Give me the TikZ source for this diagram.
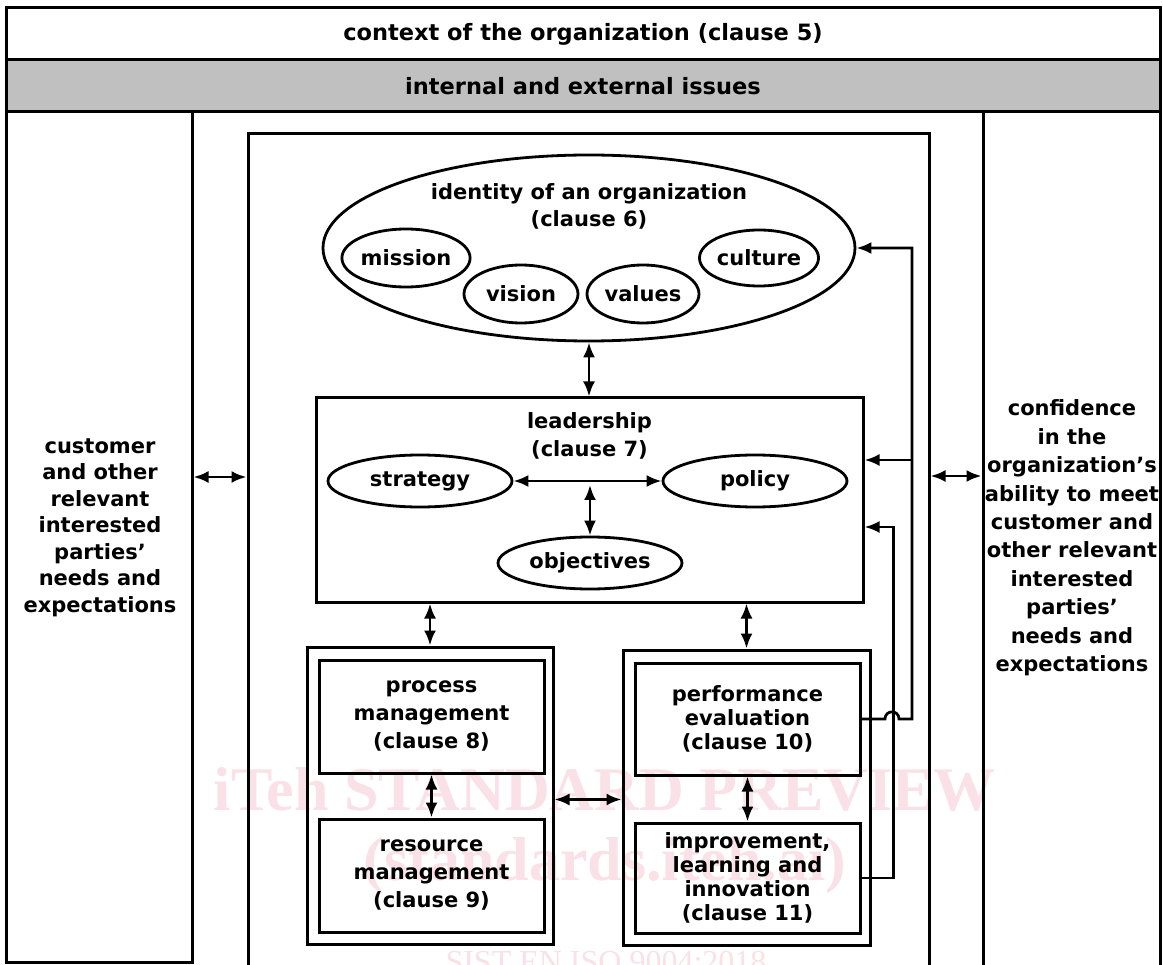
\documentclass[tikz,border=0pt]{standalone}
\usepackage{fontspec}
\setmainfont{DejaVu Sans}
\newfontfamily\wmfont{Liberation Serif}
\usetikzlibrary{arrows.meta,calc,shapes.geometric}
\definecolor{band}{RGB}{192,192,192}
\definecolor{wm}{RGB}{250,224,231}
\newcommand\mytxt{\fontsize{21}{27}\selectfont\bfseries}
\tikzset{
  frame/.style={draw, line width=3pt, rectangle, inner sep=0pt, align=center},
  oval/.style={draw, line width=2.8pt, ellipse, inner sep=0pt, font=\mytxt},
  lab/.style={align=center, inner sep=0pt},
  dbl/.style={line width=2.7pt, {Latex[length=15pt,width=12pt]}-{Latex[length=15pt,width=12pt]}},
  arr/.style={line width=2.7pt, -{Latex[length=15pt,width=12pt]}},
  wmtext/.style={anchor=base, inner sep=0pt, text=wm},
}
\begin{document}
\begin{tikzpicture}[x=1pt,y=-1pt]
\clip (0,0) rectangle (1163,965);
% watermark
\node[wmtext, font={\wmfont\bfseries\fontsize{62}{62}\selectfont}] (wm1) at (605,810) {iTeh STANDARD PREVIEW};
\node[wmtext, font={\wmfont\bfseries\fontsize{62}{62}\selectfont}] (wm2) at (605,880) {(standards.iteh.ai)};
\node[wmtext, font={\wmfont\fontsize{32}{32}\selectfont}] (wm3) at (606,972) {SIST EN ISO 9004:2018};
% bands
\node[frame, minimum width=1154pt, minimum height=52pt, font={\fontsize{22.5}{27}\selectfont\bfseries}] (title) at (583,34) {context of the organization (clause 5)};
\node[frame, fill=band, minimum width=1154pt, minimum height=52pt, font={\fontsize{22.5}{27}\selectfont\bfseries}] (issues) at (583,86) {internal and external issues};
% side columns
\node[frame, minimum width=186pt, minimum height=850pt] (leftcol) at (99,537) {};
\node[lab, font={\fontsize{21}{26.5}\selectfont\bfseries}] (lefttext) at (100,527.5) {customer\\and other\\relevant\\interested\\parties’\\needs and\\expectations};
\node[frame, minimum width=177pt, minimum height=898pt] (rightcol) at (1071.5,561) {};
\node[lab, font={\fontsize{21}{28.4}\selectfont\bfseries}] (righttext) at (1072,538) {confidence\\in the\\organization’s\\ability to meet\\customer and\\other relevant\\interested\\parties’\\needs and\\expectations};
% inner frame
\node[frame, minimum width=681pt, minimum height=876pt] (inner) at (588.5,572) {};
% identity
\node[oval, minimum width=532pt, minimum height=186pt] (ident) at (589,248) {};
\node[lab, font={\fontsize{21}{27}\selectfont\bfseries}] (identtext) at (589,206.5) {identity of an organization\\(clause 6)};
\node[oval, minimum width=114pt, minimum height=58pt] (mission) at (406,258) {mission};
\node[oval, minimum width=114pt, minimum height=58pt] (vision) at (521,294) {vision};
\node[oval, minimum width=112pt, minimum height=58pt] (values) at (643,294) {values};
\node[oval, minimum width=112pt, minimum height=56pt] (culture) at (759,258) {culture};
% leadership
\node[frame, minimum width=547pt, minimum height=204pt] (lead) at (589.5,500) {};
\node[lab, font={\fontsize{21}{28}\selectfont\bfseries}] (leadtext) at (589.5,436) {leadership\\(clause 7)};
\node[oval, minimum width=184pt, minimum height=52pt] (strat) at (420,481) {strategy};
\node[oval, minimum width=184pt, minimum height=52pt] (pol) at (755,481) {policy};
\node[oval, minimum width=184pt, minimum height=52pt] (obj) at (590,563) {objectives};
\coordinate (hub) at (590,485);
% process group
\node[frame, minimum width=246pt, minimum height=297pt] (procgrp) at (430,795.5) {};
\node[frame, minimum width=225pt, minimum height=113pt, font={\fontsize{21}{28}\selectfont\bfseries}] (proc) at (431.5,716.5) {process\\management\\(clause 8)};
\node[frame, minimum width=225pt, minimum height=113pt, font={\fontsize{21}{28}\selectfont\bfseries}] (res) at (431.5,875.5) {resource\\management\\(clause 9)};
% performance group
\node[frame, minimum width=247pt, minimum height=295pt] (perfgrp) at (746.5,797.5) {};
\node[frame, minimum width=225pt, minimum height=112pt, font={\fontsize{21}{24}\selectfont\bfseries}] (perf) at (747.5,719) {performance\\evaluation\\(clause 10)};
\node[frame, minimum width=225pt, minimum height=110pt, font={\fontsize{21}{24}\selectfont\bfseries}] (impr) at (747.5,878) {improvement,\\learning and\\innovation\\(clause 11)};
% connectors
\draw[dbl] (ident.south) -- (ident.south |- lead.north);
\draw[dbl] (strat) -- (pol);
\draw[dbl] (hub) -- (obj.north);
\draw[dbl] (lead.south -| procgrp.north) -- (procgrp.north);
\draw[dbl] (lead.south -| perfgrp.north) -- (perfgrp.north);
\draw[dbl] (proc.south) -- (res.north);
\draw[dbl] (perf.south) -- (impr.north);
\draw[dbl] ($(procgrp.east)+(0,4)$) -- ($(procgrp.east -| perfgrp.west)+(0,4)$);
\draw[dbl] (leftcol.east |- 0,477) -- (inner.west |- 0,477);
\draw[dbl] (inner.east |- 0,476) -- (rightcol.west |- 0,476);
% feedback loops
\draw[arr] (perf.east) -- (885,719) .. controls (885,709.5) and (899,709.5) .. (899,719) -- (912,719) |- (ident.east);
\coordinate (split) at (912,460);
\draw[arr] (split) -- (split -| lead.east);
\draw[arr] (impr.east) -- ++(32,0) |- ($(lead.east)+(0,27)$);
\end{tikzpicture}
\end{document}
